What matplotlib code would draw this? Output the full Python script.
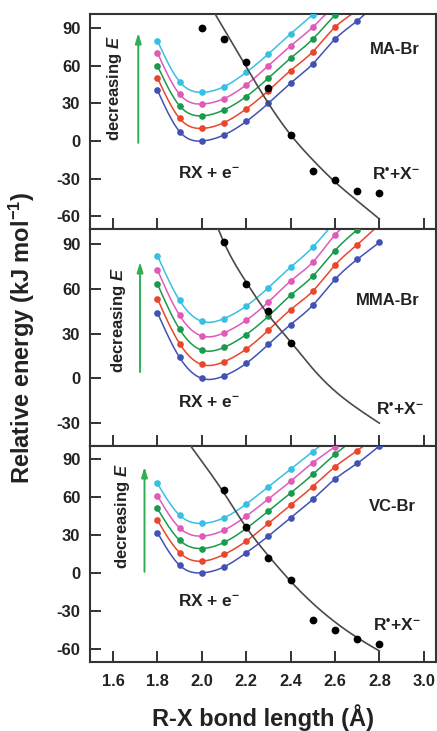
import numpy as np
import matplotlib
matplotlib.use("Agg")
import matplotlib.pyplot as plt

plt.rcParams['font.family'] = ['Liberation Sans', 'DejaVu Sans']
plt.rcParams['font.weight'] = 'bold'
plt.rcParams['mathtext.fontset'] = 'custom'
plt.rcParams['mathtext.rm'] = 'Liberation Sans:bold'
plt.rcParams['mathtext.bf'] = 'Liberation Sans:bold'
plt.rcParams['mathtext.it'] = 'Liberation Sans:italic:bold'

# ---------------- data ----------------
bond_x = [1.8, 1.9, 2.0, 2.1, 2.2, 2.3, 2.4, 2.5, 2.6, 2.7, 2.8]
series_colors = ['#4152b3', '#e8472b', '#1a9a4c', '#e05ab8', '#37c0e2']

# MA-Br
ma_blue = [40.5, 7.5, 0, 4.8, 15.5, 30, 46, 61.3, 81, 95.5, 112]
ma_red = [50.4, 18, 10, 14.6, 25.5, 40, 56, 71, 90.5, 104, 120]
ma_green = [60, 28, 20, 24.7, 35.3, 50, 65.8, 81, 100, 115, 130]
ma_magenta = [70.3, 37.2, 29.4, 33.7, 44.6, 60, 75.6, 90.5, 108, 122, 136]
ma_cyan = [79.8, 47.2, 38.7, 43.2, 54.6, 69.2, 85.2, 100.5, 116, 130, 145]
ma_dot_x = [2.0, 2.1, 2.2, 2.3, 2.4, 2.5, 2.6, 2.7, 2.8]
ma_dot_y = [89.7, 80.9, 62.6, 42.4, 4.5, -23.6, -31, -39.5, -41.1]
ma_fit_x = [2.06, 2.1, 2.2, 2.3, 2.4, 2.5, 2.6, 2.7, 2.8]
ma_fit_y = [101, 89, 59, 30, 5, -15, -32.5, -47.5, -62]

# MMA-Br
mma_blue = [44, 14, 0, 1.6, 10, 22.7, 36, 48.9, 66.2, 79.6, 91]
mma_red = [53.3, 23.3, 9.3, 11.1, 19.6, 32.2, 46, 58.4, 75.8, 89.5, 103]
mma_green = [63.3, 32.9, 18.9, 20.7, 29.3, 41.6, 55.6, 68.4, 85.6, 99.5, 113]
mma_magenta = [72.7, 42.2, 28.4, 30.4, 38.9, 51.1, 65.1, 77.8, 96, 110, 124]
mma_cyan = [82.2, 52.2, 38.2, 40, 48.4, 60.7, 74.4, 87.8, 105, 120, 134]
mma_dot_x = [2.1, 2.2, 2.3, 2.4]
mma_dot_y = [91, 63, 45.3, 24]
mma_fit_x = [2.07, 2.1, 2.2, 2.3, 2.4, 2.5, 2.6, 2.7, 2.8]
mma_fit_y = [101.5, 91, 64.5, 42.5, 24.5, 6.5, -8.5, -20, -30]

# VC-Br
vc_blue = [31.8, 6, 0, 4.7, 15.8, 29, 43.5, 57.9, 73.9, 86.3, 100]
vc_red = [41.6, 16, 9.2, 14.5, 25, 39, 53.4, 68, 83.6, 96.3, 110]
vc_green = [50.8, 25.8, 19.2, 24, 35, 48.7, 62.9, 77.6, 93.4, 107, 120]
vc_magenta = [60.8, 35.5, 29, 33.7, 44.7, 58.2, 72.2, 86.8, 99.5, 114, 128]
vc_cyan = [70.5, 45.5, 39, 43.4, 54.2, 67.9, 81.6, 95.5, 110, 124, 138]
vc_dot_x = [2.1, 2.2, 2.3, 2.4, 2.5, 2.6, 2.7, 2.8]
vc_dot_y = [65.3, 35.8, 12.1, -5.8, -36.8, -44.9, -51.8, -56.3]
vc_fit_x = [1.95, 2.0, 2.1, 2.2, 2.3, 2.4, 2.5, 2.6, 2.7, 2.8]
vc_fit_y = [100, 88, 63, 36, 13.5, -6.5, -24, -38.7, -51, -61.5]

panel_names = ['MA-Br', 'MMA-Br', 'VC-Br']
x_ticks = [1.6, 1.8, 2.0, 2.2, 2.4, 2.6, 2.8, 3.0]
y_ticks = [[-60, -30, 0, 30, 60, 90], [-30, 0, 30, 60, 90], [-60, -30, 0, 30, 60, 90]]
y_lims = [(-70, 101), (-45.3, 100), (-70, 100)]


def natural_spline(x, y, xs):
    x = np.asarray(x, float)
    y = np.asarray(y, float)
    n = len(x)
    h = np.diff(x)
    A = np.zeros((n, n))
    b = np.zeros(n)
    A[0, 0] = 1
    A[-1, -1] = 1
    for i in range(1, n - 1):
        A[i, i - 1] = h[i - 1]
        A[i, i] = 2 * (h[i - 1] + h[i])
        A[i, i + 1] = h[i]
        b[i] = 6 * ((y[i + 1] - y[i]) / h[i] - (y[i] - y[i - 1]) / h[i - 1])
    M = np.linalg.solve(A, b)
    idx = np.clip(np.searchsorted(x, xs) - 1, 0, n - 2)
    x0, x1 = x[idx], x[idx + 1]
    hh = x1 - x0
    t0 = x1 - xs
    t1 = xs - x0
    return (M[idx] * t0 ** 3 / (6 * hh) + M[idx + 1] * t1 ** 3 / (6 * hh)
            + (y[idx] / hh - M[idx] * hh / 6) * t0
            + (y[idx + 1] / hh - M[idx + 1] * hh / 6) * t1)


panels = [
    dict(series=[ma_blue, ma_red, ma_green, ma_magenta, ma_cyan],
         dx=ma_dot_x, dy=ma_dot_y, fx=ma_fit_x, fy=ma_fit_y,
         dec=(0.072, 0.655), arrow=(1.714, -1.5, 86),
         name=(2.870, 72.8), rx=(2.032, -25.5), rp=(2.875, -26.3)),
    dict(series=[mma_blue, mma_red, mma_green, mma_magenta, mma_cyan],
         dx=mma_dot_x, dy=mma_dot_y, fx=mma_fit_x, fy=mma_fit_y,
         dec=(0.082, 0.58), arrow=(1.722, 4.2, 78),
         name=(2.836, 52.4), rx=(2.032, -15.7), rp=(2.891, -20.6)),
    dict(series=[vc_blue, vc_red, vc_green, vc_magenta, vc_cyan],
         dx=vc_dot_x, dy=vc_dot_y, fx=vc_fit_x, fy=vc_fit_y,
         dec=(0.094, 0.674), arrow=(1.742, 0.8, 83.6),
         name=(2.861, 52.6), rx=(2.032, -21.9), rp=(2.881, -41.3)),
]

W, H = 437, 731
fig = plt.figure(figsize=(W / 100, H / 100), dpi=100)
fig.patch.set_facecolor('white')

axes_pix = [(14, 229), (229, 446), (446, 661.7)]
left_px, right_px = 90, 435.5

for k, (p, (top, bot)) in enumerate(zip(panels, axes_pix)):
    ax = fig.add_axes([left_px / W, 1 - bot / H, (right_px - left_px) / W, (bot - top) / H])
    ax.set_xlim(1.4965, 3.053)
    ax.set_ylim(*y_lims[k])
    xs = np.linspace(bond_x[0], bond_x[-1], 300)
    for vals, c in zip(p['series'], series_colors):
        ax.plot(xs, natural_spline(bond_x, vals, xs), color=c, lw=1.1, zorder=2)
        ax.plot(bond_x, vals, 'o', color=c, ms=4.8, mec='none', zorder=3)
    fxs = np.linspace(p['fx'][0], p['fx'][-1], 300)
    ax.plot(fxs, natural_spline(p['fx'], p['fy'], fxs), color='#4a4a4a', lw=1.2, zorder=4)
    ax.plot(p['dx'], p['dy'], 'o', color='black', ms=5.6, mec='none', zorder=5)

    ax.set_xticks(x_ticks)
    ax.set_yticks(y_ticks[k])
    ax.tick_params(axis='both', direction='in', length=8, width=1.4, color='#333333',
                   top=False, right=False)
    ax.tick_params(axis='y', pad=7, labelsize=12)
    ax.tick_params(axis='x', pad=8.5, labelsize=11.8)
    if k < 2:
        ax.set_xticklabels([])
    else:
        ax.set_xticklabels([f'{v:.1f}' for v in x_ticks])
    ax.set_yticklabels([str(v) for v in y_ticks[k]])
    for lab in ax.get_xticklabels() + ax.get_yticklabels():
        lab.set_fontweight('bold')
        lab.set_color('#222222')
    for sp in ax.spines.values():
        sp.set_linewidth(1.5)
        sp.set_color('#333333')

    ax.text(p['dec'][0], p['dec'][1], r'decreasing $E$', transform=ax.transAxes,
            rotation=90, ha='center', va='center', fontsize=12, fontweight='bold', color='#222222')
    ax.annotate('', xy=(p['arrow'][0], p['arrow'][2]), xytext=(p['arrow'][0], p['arrow'][1]),
                arrowprops=dict(arrowstyle='-|>,head_length=0.6,head_width=0.18',
                                color='#2fae55', lw=1.4, shrinkA=0, shrinkB=0))
    ax.text(p['name'][0], p['name'][1], panel_names[k], ha='center', va='center',
            fontsize=12, fontweight='bold', color='#222222')
    ax.text(p['rx'][0], p['rx'][1], r'RX + e$^{-}$', ha='center', va='center',
            fontsize=12.5, fontweight='bold', color='#222222')
    ax.text(p['rp'][0], p['rp'][1], 'R$^{\u2022}$+X$^{-}$', ha='center', va='center',
            fontsize=12.5, fontweight='bold', color='#222222')

fig.text(22 / W, 1 - 338 / H, r'Relative energy (kJ mol$^{-1}$)', rotation=90,
         ha='center', va='center', fontsize=17, fontweight='bold', color='#222222')
fig.text(262.5 / W, 1 - 718 / H, 'R-X bond length (Å)', ha='center', va='center',
         fontsize=17, fontweight='bold', color='#222222')

fig.savefig('out.png', dpi=100, facecolor='white')
